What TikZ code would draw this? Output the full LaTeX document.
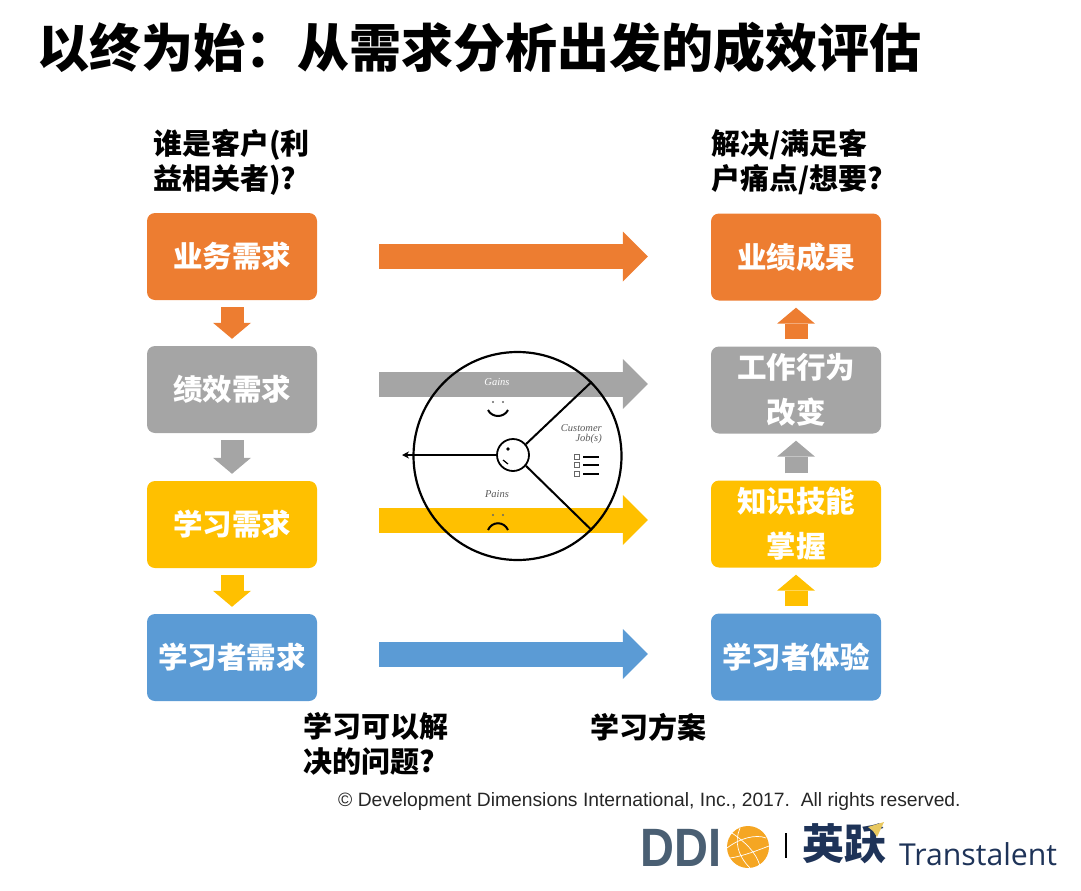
\documentclass[tikz,border=0pt]{standalone}
\usepackage{fontspec}
\setmainfont{Liberation Sans}
\newfontfamily\cjk{Noto Sans CJK SC}
\newfontfamily\canvasfont{Liberation Serif}
\newfontfamily\brandfont{Open Sans}
\usetikzlibrary{positioning}
\usetikzlibrary{arrows.meta}

\definecolor{ddiorange}{HTML}{ED7D31}
\definecolor{ddigray}{HTML}{A5A5A5}
\definecolor{ddiyellow}{HTML}{FFC000}
\definecolor{ddiblue}{HTML}{5B9BD5}
\definecolor{ddislate}{HTML}{4A5F73}
\definecolor{ddinavy}{HTML}{1E3358}
\definecolor{ddiglobe}{HTML}{F5A623}
\definecolor{ddiplane}{HTML}{E8C860}

\tikzset{
    needbox/.style={rounded corners=8pt, minimum width=170pt, minimum height=87pt, inner sep=0pt,
        text=white, align=center, font=\cjk\bfseries\fontsize{29.5}{45}\selectfont},
    headtext/.style={anchor=west, inner sep=0pt, align=left, font=\cjk\bfseries\fontsize{29}{35}\selectfont},
    bigarrow/.style={line width=25pt, shorten <=62pt, shorten >=63pt,
        -{Triangle[length=25pt,width=50pt,line width=0pt]}},
    smallarrow/.style={line width=23pt, shorten <=7pt, shorten >=7pt,
        -{Triangle[length=16pt,width=38pt,line width=0pt]}},
    canvastext/.style={inner sep=0pt, font=\canvasfont\itshape\fontsize{10.5}{10.5}\selectfont}
}

\begin{document}
\begin{tikzpicture}[x=1pt,y=-1pt]
    \useasboundingbox (0,0) rectangle (1081,891);

    % Title
    \node[anchor=west, inner sep=0pt, font=\cjk\bfseries\fontsize{52}{60}\selectfont] (title) at (37,48) {以终为始：从需求分析出发的成效评估};

    % Questions around the columns
    \node[headtext] (whohead) at (153,162) {谁是客户(利\\益相关者)?};
    \node[headtext] (painhead) at (711,162) {解决/满足客\\户痛点/想要?};
    \node[headtext] (solvehead) at (303,744) {学习可以解\\决的问题?};
    \node[headtext] (planhead) at (590,727) {学习方案};

    % Left column
    \node[needbox, fill=ddiorange] (bizneed) at (232,256.5) {业务需求};
    \node[needbox, fill=ddigray] (perfneed) at (232,389.5) {绩效需求};
    \node[needbox, fill=ddiyellow] (learnneed) at (232,524.5) {学习需求};
    \node[needbox, fill=ddiblue] (learnerneed) at (232,657.5) {学习者需求};

    % Right column
    \node[needbox, fill=ddiorange] (bizresult) at (796,257) {业绩成果};
    \node[needbox, fill=ddigray] (workchange) at (796,390) {工作行为\\改变};
    \node[needbox, fill=ddiyellow] (skillgain) at (796,524) {知识技能\\掌握};
    \node[needbox, fill=ddiblue] (learnerexp) at (796,657) {学习者体验};

    % Small arrows inside the columns
    \draw[smallarrow, ddiorange] (bizneed) -- (perfneed);
    \draw[smallarrow, ddigray] (perfneed) -- (learnneed);
    \draw[smallarrow, ddiyellow] (learnneed) -- (learnerneed);
    \draw[smallarrow, ddiyellow] (learnerexp) -- (skillgain);
    \draw[smallarrow, ddigray] (skillgain) -- (workchange);
    \draw[smallarrow, ddiorange] (workchange) -- (bizresult);

    % Long arrows between the columns
    \draw[bigarrow, ddiorange] (bizneed.east) -- ([yshift=0.5pt]bizresult.west);
    \draw[bigarrow, ddigray] ([yshift=5.5pt]perfneed.east) -- ([yshift=6pt]workchange.west);
    \draw[bigarrow, ddiyellow] ([yshift=4.5pt]learnneed.east) -- ([yshift=4pt]skillgain.west);
    \draw[bigarrow, ddiblue] ([yshift=3.5pt]learnerneed.east) -- ([yshift=3pt]learnerexp.west);

    % Customer profile circle
    \node[draw, circle, line width=2.2pt, minimum size=208pt, inner sep=0pt] (profile) at (517.5,456) {};
    \node[draw, circle, line width=1.8pt, minimum size=32pt, inner sep=0pt] (hub) at (513,455) {};
    \coordinate (lookend) at (402,455);
    \draw[line width=1.6pt, -{Stealth[length=7pt,width=7pt]}] (hub.west) -- (lookend);
    \draw[line width=2pt] (hub.40) -- (profile.45);
    \draw[line width=2pt] (hub.-40) -- (profile.-45);
    \fill (508,449) circle (1.8);
    \draw[line width=1.2pt] (503,460) -- (508,464);

    % Texts in the circle
    \node[canvastext, text=white] (gains) at (497,382) {Gains};
    \node[canvastext, text=black!65] (pains) at (497,494) {Pains};
    \node[canvastext, text=black!65, align=right, anchor=east] (jobs) at (602,434) {Customer\\Job(s)};

    % Faces
    \fill[black!60] (493,402) circle (1.2) (503,402) circle (1.2);
    \draw[line width=2pt] (488,410) .. controls (492,418) and (504,418) .. (508,410);
    \fill[black!60] (493,515) circle (1.2) (503,515) circle (1.2);
    \draw[line width=2pt] (488,530) .. controls (492,521) and (504,521) .. (508,530);

    % Checklist
    \foreach \y in {457,465,474} {
        \draw[black!60, line width=0.5pt] (574,\y-2.5) rectangle (579,\y+2.5);
        \draw[line width=2.8pt] (583,\y) -- (599,\y);
    }

    % Footer
    \node[anchor=west, inner sep=0pt, font=\fontsize{19.3}{22}\selectfont, text=black!85] (rights) at (338,801) {© Development Dimensions International, Inc., 2017.\ \ All rights reserved.};

    % Logos
    \node[anchor=west, inner sep=0pt, xscale=0.87, text=ddislate, font=\bfseries\fontsize{54}{54}\selectfont] (ddi) at (640,848) {DDI};
    \fill[ddiglobe] (748,847) circle (21);
    \draw[white, line width=0.7pt] (732,833) .. controls (745,842) and (756,852) .. (760,866);
    \draw[white, line width=0.7pt] (740,828) .. controls (734,842) and (738,856) .. (750,868);
    \draw[white, line width=0.7pt] (727,848) .. controls (740,838) and (756,834) .. (766,838);
    \draw[white, line width=0.7pt] (730,858) .. controls (744,856) and (758,850) .. (769,846);
    \draw[line width=1.8pt] (786,833) -- (786,858);
    \node[anchor=west, inner sep=0pt, text=ddinavy, font=\cjk\bfseries\fontsize{42}{42}\selectfont] (yingyue) at (802,844) {英跃};
    \fill[ddiplane] (868,827) -- (884,822) -- (877,837) -- (873,831) -- cycle;
    \node[anchor=base west, inner sep=0pt, text=ddinavy, font=\brandfont\fontsize{30.2}{31}\selectfont] (brand) at (899,865) {Transtalent};
\end{tikzpicture}
\end{document}
